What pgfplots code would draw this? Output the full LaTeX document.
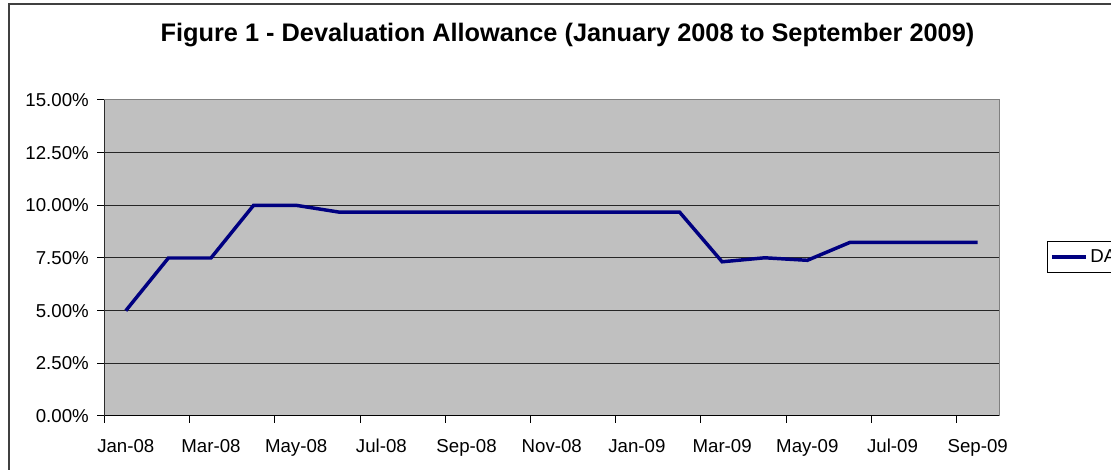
\documentclass[border=0pt]{standalone}
\usepackage{pgfplots}
\pgfplotsset{compat=1.18}
\usepackage{fontspec}
\setmainfont{Liberation Sans}
\definecolor{plotgray}{HTML}{C0C0C0}
\definecolor{daline}{HTML}{000080}
\definecolor{framegray}{HTML}{808080}
\begin{document}
\begin{tikzpicture}
\useasboundingbox (0,0) rectangle (833.25pt,352.5pt);
% outer chart frame, cut off by the page at right and bottom
\draw[line width=1.5pt, black!75] (6.75pt,-20pt) -- (6.75pt,349.5pt) -- (850pt,349.5pt);
\begin{axis}[
  at={(78.375pt,40.5pt)}, anchor=south west,
  width=670.875pt, height=237pt, scale only axis,
  xmin=-0.5, xmax=20.5, ymin=0, ymax=15,
  axis background/.style={fill=plotgray},
  axis line style={framegray, line width=0.75pt},
  tick pos=left, tick align=outside,
  major tick length=5.25pt, minor tick length=5.25pt,
  tick style={black, line width=0.75pt},
  xtick={0,2,...,20},
  xticklabels={Jan-08,Mar-08,May-08,Jul-08,Sep-08,Nov-08,Jan-09,Mar-09,May-09,Jul-09,Sep-09},
  major x tick style={draw=none},
  minor xtick={-0.5,1.5,...,19.5},
  ytick={0,2.5,...,15},
  yticklabel={\pgfmathprintnumber[fixed,fixed zerofill,precision=2]{\tick}\%},
  /pgf/number format/assume math mode=true,
  ticklabel style={font=\fontsize{14}{16}\selectfont},
  xticklabel style={yshift=-8.5pt},
  yticklabel style={xshift=-3pt},
  ymajorgrids, grid style={black!85, line width=0.75pt},
  title={Figure 1 - Devaluation Allowance (January 2008 to September 2009)},
  title style={at={(0.5176,1.1604)}, anchor=base, font=\fontsize{19}{22}\selectfont\bfseries},
  legend style={at={(1.0537,0.503)}, anchor=west, draw=black, line width=0.75pt,
    font=\fontsize{14}{16}\selectfont, inner xsep=2pt, inner ysep=4pt},
  legend image code/.code={\draw[#1] (0pt,0pt) -- (25.5pt,0pt);},
]
\addplot[daline, line width=2.6pt] coordinates {
  (0,5.00) (1,7.50) (2,7.50) (3,10.00) (4,10.00) (5,9.68) (6,9.68)
  (7,9.68) (8,9.68) (9,9.68) (10,9.68) (11,9.68) (12,9.68) (13,9.68)
  (14,7.32) (15,7.51) (16,7.39) (17,8.24) (18,8.24) (19,8.24) (20,8.24)
};
\addlegendentry{DA}
\draw[black, line width=0.75pt] (rel axis cs:0,1) -- (rel axis cs:0,0) -- (rel axis cs:1,0);
\end{axis}
\end{tikzpicture}
\end{document}
